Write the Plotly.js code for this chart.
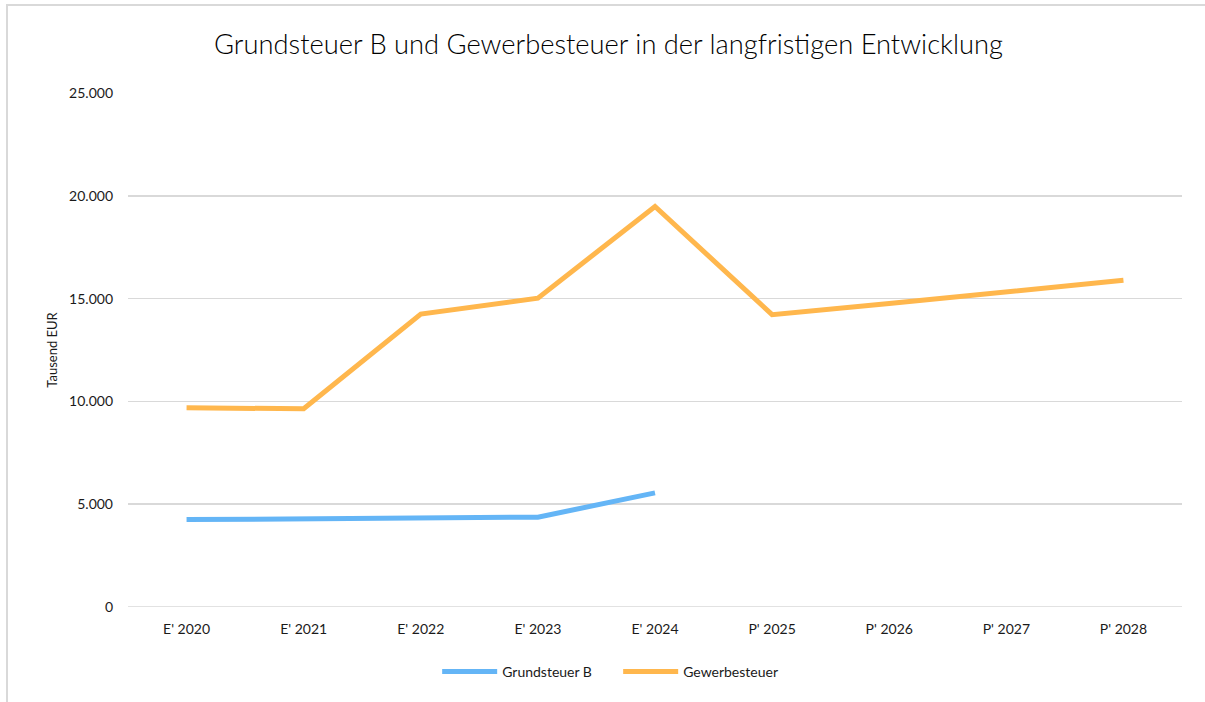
<!DOCTYPE html>
<html>
<head>
<meta charset="utf-8">
<script src="https://cdn.plot.ly/plotly-3.0.1.min.js"></script>
<style>
html,body{margin:0;padding:0;background:#fff;}
#wrap{position:relative;width:1205px;height:702px;}
#chart{width:1205px;height:702px;}
#frame{position:absolute;left:6px;top:4px;right:0;bottom:0;border-top:2px solid #d9d9d9;border-left:2px solid #d9d9d9;pointer-events:none;}
</style>
</head>
<body>
<div id="wrap"><div id="chart"></div><div id="frame"></div></div>
<script>
const categories = ["E' 2020","E' 2021","E' 2022","E' 2023","E' 2024","P' 2025","P' 2026","P' 2027","P' 2028"];
const grundsteuerB = [4250, 4300, 4340, 4370, 5550, null, null, null, null];
const gewerbesteuer = [9690, 9640, 14250, 15020, 19480, 14220, 14760, 15320, 15890];
const yTickVals = [0, 5000, 10000, 15000, 20000, 25000];
const yTickText = ["0", "5.000", "10.000", "15.000", "20.000", "25.000"];

const font = "Lato, 'Open Sans', sans-serif";
const traces = [
  {x: categories, y: grundsteuerB, name: "Grundsteuer B", type: "scatter", mode: "lines",
   line: {color: "#64B5F6", width: 5}, connectgaps: false},
  {x: categories, y: gewerbesteuer, name: "Gewerbesteuer", type: "scatter", mode: "lines",
   line: {color: "#FFB74D", width: 5}}
];
const layout = {
  width: 1205, height: 702,
  margin: {l: 128, r: 23, t: 93, b: 95},
  paper_bgcolor: "#fff", plot_bgcolor: "#fff",
  font: {family: font, size: 14, color: "#1a1a1a"},
  title: {text: "Grundsteuer B und Gewerbesteuer in der langfristigen Entwicklung",
          x: 0.505, xref: "container", y: 0.936, yref: "container", yanchor: "middle",
          font: {family: font, size: 27.3, color: "#000", weight: 300}},
  xaxis: {type: "category", showgrid: false, zeroline: false, showline: false,
          ticks: "", tickfont: {size: 14}, ticklabelstandoff: 12, range: [-0.5, 8.5], fixedrange: true},
  yaxis: {range: [0, 25000], tickvals: yTickVals, ticktext: yTickText,
          showgrid: true, gridcolor: "#d9d9d9", gridwidth: 1.5, zeroline: false,
          showline: false, ticks: "", tickfont: {size: 14}, ticklabelstandoff: 14,
          title: {text: "Tausend EUR", font: {size: 13}, standoff: 8}},
  showlegend: true,
  legend: {orientation: "h", x: 0.513, xanchor: "center", xref: "container", y: 0.043, yref: "container", yanchor: "middle",
           font: {size: 14}, traceorder: "normal", itemwidth: 55, entrywidth: 111},
  shapes: [{type: "line", xref: "paper", yref: "y", x0: 0, x1: 1, y0: 0, y1: 0,
            line: {color: "#d9d9d9", width: 1.5}}]
};
Plotly.newPlot("chart", traces, layout, {displayModeBar: false, staticPlot: true});
</script>
</body>
</html>
